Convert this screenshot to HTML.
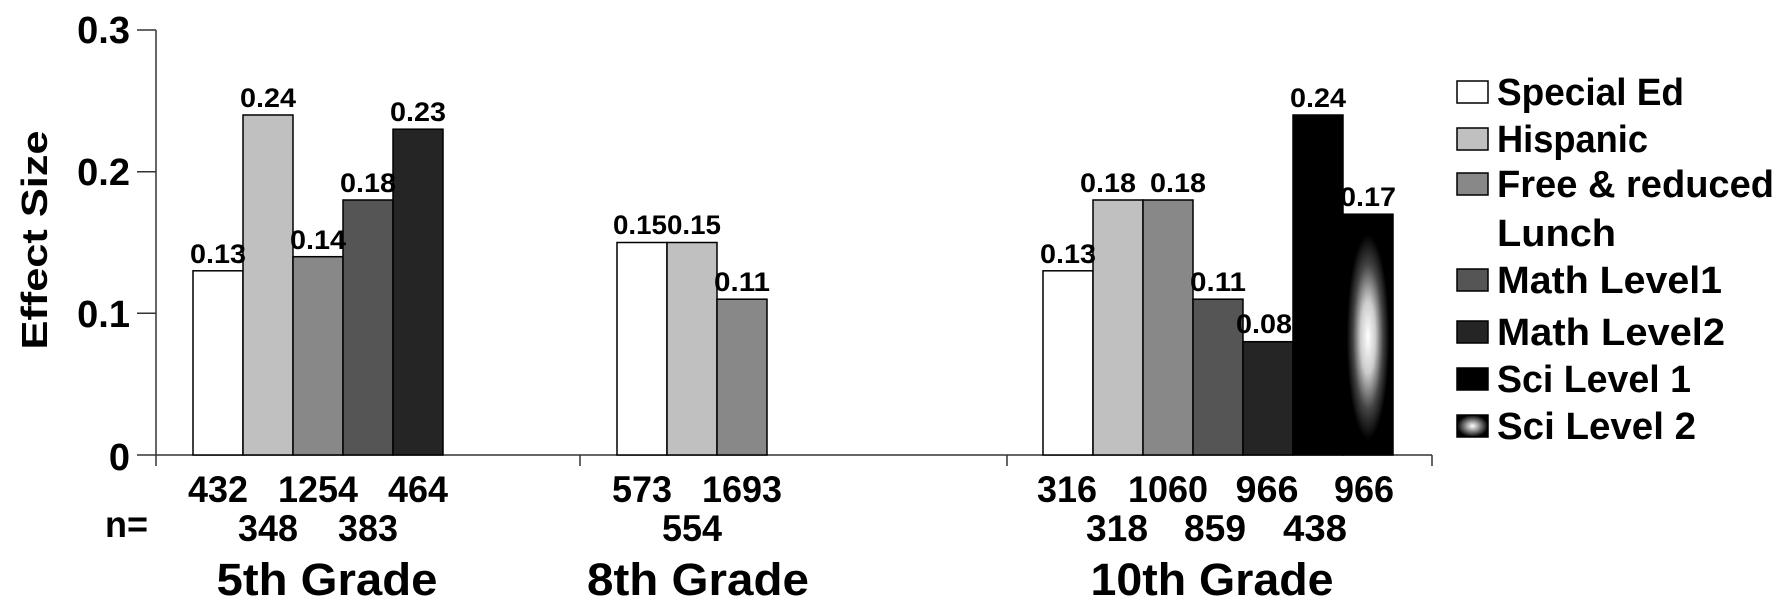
<!DOCTYPE html>
<html><head><meta charset="utf-8"><style>
html,body{margin:0;padding:0;background:#fff;}
svg{display:block;font-family:"Liberation Sans",Arial,sans-serif;font-weight:bold;}
</style></head><body>
<svg width="1779" height="610" viewBox="0 0 1779 610" xmlns="http://www.w3.org/2000/svg">
<defs>
<radialGradient id="g" cx="0.5" cy="0.51" r="0.5">
<stop offset="0" stop-color="#fff"/>
<stop offset="0.3" stop-color="#ccc"/>
<stop offset="0.6" stop-color="#444"/>
<stop offset="0.85" stop-color="#000"/>
<stop offset="1" stop-color="#000"/>
</radialGradient>
<radialGradient id="g2" cx="0.5" cy="0.5" r="0.5">
<stop offset="0" stop-color="#fff"/>
<stop offset="0.35" stop-color="#aaa"/>
<stop offset="1" stop-color="#000"/>
</radialGradient>
</defs>
<line x1="156" y1="30" x2="156" y2="466" stroke="#333" stroke-width="1.5"/>
<line x1="137" y1="455" x2="1432" y2="455" stroke="#333" stroke-width="1.5"/>
<g stroke="#333" stroke-width="1.5">
<line x1="137" y1="30" x2="156" y2="30"/>
<line x1="137" y1="171.7" x2="156" y2="171.7"/>
<line x1="137" y1="313.3" x2="156" y2="313.3"/>
<line x1="580" y1="455" x2="580" y2="466"/>
<line x1="1007" y1="455" x2="1007" y2="466"/>
<line x1="1432" y1="455" x2="1432" y2="466"/>
</g>
<g font-size="38" text-anchor="end">
<text x="130" y="43">0.3</text>
<text x="130" y="185">0.2</text>
<text x="130" y="327">0.1</text>
<text x="130" y="470">0</text>
</g>
<text transform="translate(47,240) rotate(-90)" font-size="36" text-anchor="middle" textLength="219" lengthAdjust="spacingAndGlyphs">Effect Size</text>
<g stroke="#000" stroke-width="1.5">
<rect x="193" y="270.8" width="50" height="184.2" fill="#fff"/>
<rect x="243" y="115" width="50" height="340" fill="#c0c0c0"/>
<rect x="293" y="256.7" width="50" height="198.3" fill="#888"/>
<rect x="343" y="200" width="50" height="255" fill="#555"/>
<rect x="393" y="129.2" width="50" height="325.8" fill="#252525"/>
<rect x="617" y="242.5" width="50" height="212.5" fill="#fff"/>
<rect x="667" y="242.5" width="50" height="212.5" fill="#c0c0c0"/>
<rect x="717" y="299.2" width="50" height="155.8" fill="#888"/>
<rect x="1043" y="270.8" width="50" height="184.2" fill="#fff"/>
<rect x="1093" y="200" width="50" height="255" fill="#c0c0c0"/>
<rect x="1143" y="200" width="50" height="255" fill="#888"/>
<rect x="1193" y="299.2" width="50" height="155.8" fill="#555"/>
<rect x="1243" y="341.7" width="50" height="113.3" fill="#252525"/>
<rect x="1293" y="115" width="50" height="340" fill="#000"/>
<rect x="1343" y="214.2" width="50" height="240.8" fill="url(#g)"/>
</g>
<g font-size="27" text-anchor="middle">
<text x="218" y="263" textLength="56" lengthAdjust="spacingAndGlyphs">0.13</text>
<text x="268" y="107" textLength="56" lengthAdjust="spacingAndGlyphs">0.24</text>
<text x="318" y="249" textLength="56" lengthAdjust="spacingAndGlyphs">0.14</text>
<text x="368" y="192" textLength="56" lengthAdjust="spacingAndGlyphs">0.18</text>
<text x="418" y="121" textLength="56" lengthAdjust="spacingAndGlyphs">0.23</text>
<text x="640" y="234" textLength="54" lengthAdjust="spacingAndGlyphs">0.15</text>
<text x="694" y="234" textLength="54" lengthAdjust="spacingAndGlyphs">0.15</text>
<text x="742" y="291" textLength="56" lengthAdjust="spacingAndGlyphs">0.11</text>
<text x="1068" y="263" textLength="56" lengthAdjust="spacingAndGlyphs">0.13</text>
<text x="1108" y="192" textLength="56" lengthAdjust="spacingAndGlyphs">0.18</text>
<text x="1178" y="192" textLength="56" lengthAdjust="spacingAndGlyphs">0.18</text>
<text x="1218" y="291" textLength="56" lengthAdjust="spacingAndGlyphs">0.11</text>
<text x="1264" y="333" textLength="56" lengthAdjust="spacingAndGlyphs">0.08</text>
<text x="1318" y="107" textLength="56" lengthAdjust="spacingAndGlyphs">0.24</text>
<text x="1368" y="206" textLength="56" lengthAdjust="spacingAndGlyphs">0.17</text>
</g>
<g font-size="37" text-anchor="middle">
<text x="218" y="502" textLength="60" lengthAdjust="spacingAndGlyphs">432</text>
<text x="318" y="502" textLength="80" lengthAdjust="spacingAndGlyphs">1254</text>
<text x="418" y="502" textLength="60" lengthAdjust="spacingAndGlyphs">464</text>
<text x="268" y="541" textLength="60" lengthAdjust="spacingAndGlyphs">348</text>
<text x="368" y="541" textLength="60" lengthAdjust="spacingAndGlyphs">383</text>
<text x="642" y="502" textLength="60" lengthAdjust="spacingAndGlyphs">573</text>
<text x="742" y="502" textLength="80" lengthAdjust="spacingAndGlyphs">1693</text>
<text x="692" y="541" textLength="60" lengthAdjust="spacingAndGlyphs">554</text>
<text x="1067" y="502" textLength="60" lengthAdjust="spacingAndGlyphs">316</text>
<text x="1168" y="502" textLength="80" lengthAdjust="spacingAndGlyphs">1060</text>
<text x="1267" y="502" textLength="63" lengthAdjust="spacingAndGlyphs">966</text>
<text x="1364" y="502" textLength="60" lengthAdjust="spacingAndGlyphs">966</text>
<text x="1117" y="541" textLength="62" lengthAdjust="spacingAndGlyphs">318</text>
<text x="1215" y="541" textLength="62" lengthAdjust="spacingAndGlyphs">859</text>
<text x="1315" y="541" textLength="64" lengthAdjust="spacingAndGlyphs">438</text>
</g>
<text x="105" y="537" font-size="37" textLength="43" lengthAdjust="spacingAndGlyphs">n=</text>
<g font-size="45" text-anchor="middle">
<text x="327" y="595" textLength="221" lengthAdjust="spacingAndGlyphs">5th Grade</text>
<text x="698" y="595" textLength="222" lengthAdjust="spacingAndGlyphs">8th Grade</text>
<text x="1212" y="595" textLength="243" lengthAdjust="spacingAndGlyphs">10th Grade</text>
</g>
<g stroke="#000" stroke-width="1.5">
<rect x="1457" y="81" width="31" height="22" fill="#fff"/>
<rect x="1457" y="128" width="31" height="22" fill="#c0c0c0"/>
<rect x="1457" y="173" width="31" height="22" fill="#888"/>
<rect x="1457" y="269" width="31" height="22" fill="#555"/>
<rect x="1457" y="321" width="31" height="22" fill="#252525"/>
<rect x="1457" y="368" width="31" height="22" fill="#000"/>
<rect x="1457" y="415" width="31" height="22" fill="url(#g2)"/>
</g>
<g font-size="38">
<text x="1497" y="105" textLength="187" lengthAdjust="spacingAndGlyphs">Special Ed</text>
<text x="1497" y="152" textLength="151" lengthAdjust="spacingAndGlyphs">Hispanic</text>
<text x="1497" y="197" textLength="277" lengthAdjust="spacingAndGlyphs">Free &amp; reduced</text>
<text x="1497" y="246" textLength="119" lengthAdjust="spacingAndGlyphs">Lunch</text>
<text x="1497" y="293" textLength="225" lengthAdjust="spacingAndGlyphs">Math Level1</text>
<text x="1497" y="345" textLength="228" lengthAdjust="spacingAndGlyphs">Math Level2</text>
<text x="1497" y="392" textLength="194" lengthAdjust="spacingAndGlyphs">Sci Level 1</text>
<text x="1497" y="439" textLength="199" lengthAdjust="spacingAndGlyphs">Sci Level 2</text>
</g>
</svg>
</body></html>
